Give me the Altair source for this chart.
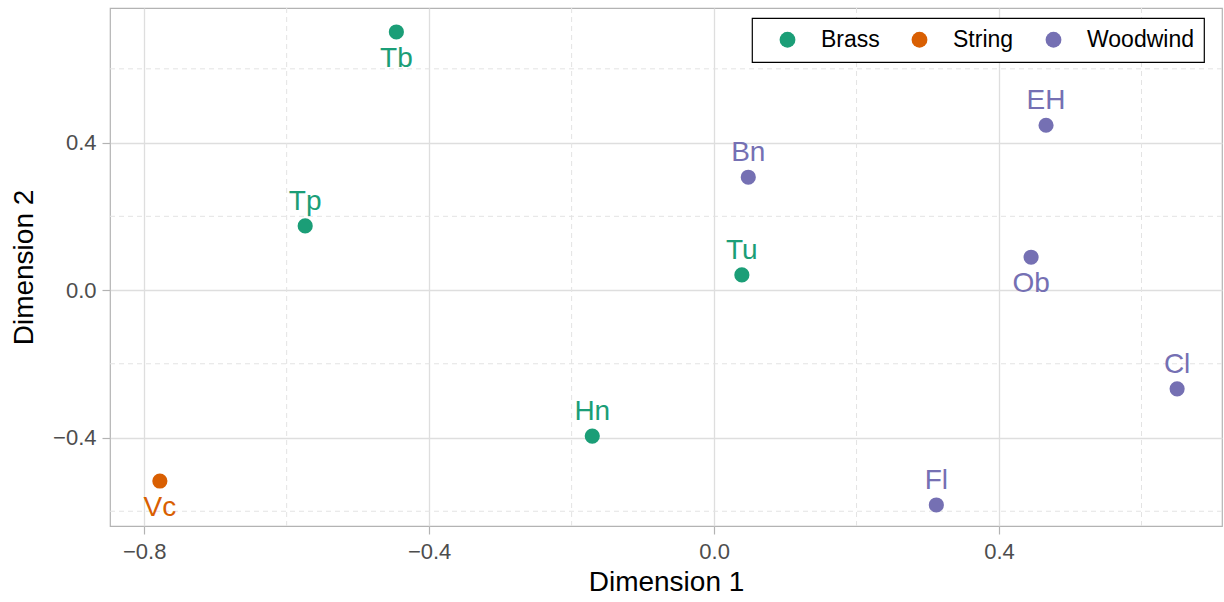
import altair as alt
import pandas as pd

instruments = ["Tb", "Tp", "Tu", "Hn", "Vc", "Bn", "EH", "Ob", "Cl", "Fl"]
families = ["Brass", "Brass", "Brass", "Brass", "String",
            "Woodwind", "Woodwind", "Woodwind", "Woodwind", "Woodwind"]
dim1 = [-0.446, -0.574, 0.039, -0.171, -0.778, 0.048, 0.466, 0.445, 0.650, 0.312]
dim2 = [0.700, 0.174, 0.041, -0.396, -0.518, 0.306, 0.447, 0.089, -0.268, -0.583]
label_below = ["Tb", "Vc", "Ob"]

family_names = ["Brass", "String", "Woodwind"]
family_colors = ["#1B9E77", "#D95F02", "#7570B3"]

x_major = [-0.8, -0.4, 0.0, 0.4]
y_major = [-0.4, 0.0, 0.4]
x_minor = [-0.6, -0.2, 0.2, 0.6]
y_minor = [-0.6, -0.2, 0.2, 0.6]
x_domain = [-0.848, 0.713]
y_domain = [-0.640, 0.765]

FONT = "Liberation Sans"

df = pd.DataFrame({"inst": instruments, "family": families, "d1": dim1, "d2": dim2})
df["below"] = df["inst"].isin(label_below)

xs = alt.Scale(domain=x_domain, nice=False, zero=False)
ys = alt.Scale(domain=y_domain, nice=False, zero=False)
cs = alt.Scale(domain=family_names, range=family_colors)

x_enc = alt.X("d1:Q", scale=xs, title="Dimension 1",
              axis=alt.Axis(values=x_major, format=".1f", grid=True))
y_enc = alt.Y("d2:Q", scale=ys, title="Dimension 2",
              axis=alt.Axis(values=y_major, format=".1f", grid=True))

base = alt.Chart(df)

xminor = alt.Chart(pd.DataFrame({"v": x_minor})).mark_rule(
    color="#E3E3E3", strokeDash=[5, 4], strokeWidth=1
).encode(x=alt.X("v:Q", scale=xs))
yminor = alt.Chart(pd.DataFrame({"v": y_minor})).mark_rule(
    color="#E3E3E3", strokeDash=[5, 4], strokeWidth=1
).encode(y=alt.Y("v:Q", scale=ys))

points = base.mark_point(filled=True, size=230, opacity=1).encode(
    x=x_enc, y=y_enc,
    color=alt.Color("family:N", scale=cs, title=None,
                    legend=alt.Legend(orient="none", legendX=642, legendY=10,
                                      direction="horizontal",
                                      strokeColor="black",
                                      padding=10, symbolSize=250,
                                      symbolOffset=14, labelOffset=22,
                                      columnPadding=14,
                                      labelFontSize=23, labelFont=FONT,
                                      labelColor="black", fillColor="white",
                                      symbolType="circle")),
)

labels_above = base.transform_filter("!datum.below").mark_text(
    fontSize=28, font=FONT, dy=-24, baseline="middle"
).encode(x=alt.X("d1:Q", scale=xs), y=alt.Y("d2:Q", scale=ys),
         text="inst:N", color=alt.Color("family:N", scale=cs, legend=None))

labels_below = base.transform_filter("datum.below").mark_text(
    fontSize=28, font=FONT, dy=27, baseline="middle"
).encode(x=alt.X("d1:Q", scale=xs), y=alt.Y("d2:Q", scale=ys),
         text="inst:N", color=alt.Color("family:N", scale=cs, legend=None))

chart = alt.layer(xminor, yminor, points, labels_above, labels_below).properties(
    width=1112, height=518,
    autosize=alt.AutoSizeParams(type="none"),
    padding={"left": 110, "top": 8, "right": 2, "bottom": 76},
).configure_view(
    stroke="#B3B3B3", strokeWidth=1.2
).configure_legend(
    strokeWidth=1.2
).configure_axis(
    domain=False, gridColor="#DEDEDE", gridWidth=1.3,
    tickColor="#B3B3B3", tickSize=8, tickWidth=1.2,
    labelFont=FONT, labelFontSize=22, labelColor="#4D4D4D",
    titleFont=FONT, titleFontSize=28, titleColor="black", titleFontWeight="normal",
).configure_axisX(titlePadding=6, labelPadding=7).configure_axisY(titlePadding=14, labelPadding=6)

chart.save("out.html", embed_options={"renderer": "svg", "actions": False})
